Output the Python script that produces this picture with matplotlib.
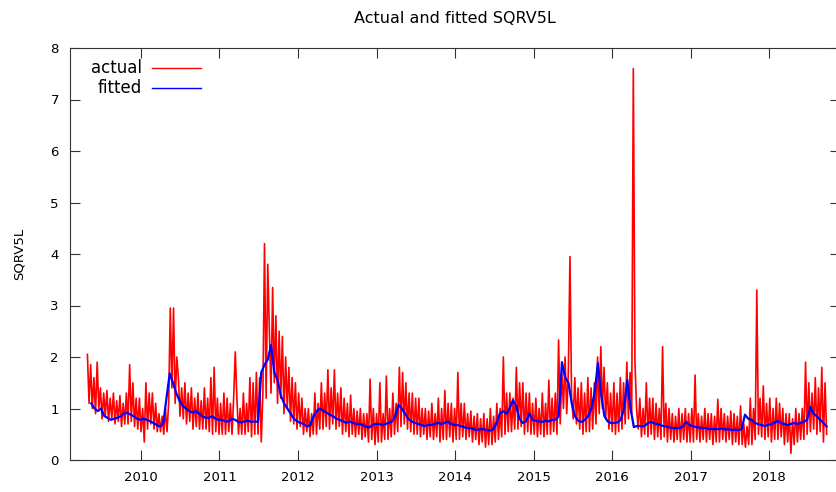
import numpy as np
import pandas as pd
import matplotlib
matplotlib.use("Agg")
import matplotlib.pyplot as plt
import matplotlib.dates as mdates

# actual SQRV5L, 4 readings per month, Apr 2009 .. Sep 2018
actual = [
    # 2009 Apr-Dec
    2.05, 1.1, 1.85, 1.0,  1.6, 0.9, 1.9, 1.0,  1.4, 0.8, 1.3, 0.85,
    1.35, 0.75, 1.2, 0.8,  1.3, 0.7, 1.15, 0.75,  1.25, 0.65, 1.1, 0.7,
    1.3, 0.7, 1.85, 0.75,  1.5, 0.65, 1.2, 0.6,  1.2, 0.55, 1.0, 0.35,
    # 2010
    1.5, 0.6, 1.3, 0.7,  1.3, 0.6, 1.1, 0.55,  0.9, 0.55, 0.85, 0.5,
    1.0, 0.55, 1.1, 2.95,  1.4, 2.95, 1.1, 2.0,  1.6, 0.85, 1.4, 0.8,
    1.5, 0.7, 1.3, 0.75,  1.4, 0.6, 1.2, 0.65,  1.3, 0.6, 1.15, 0.6,
    1.4, 0.6, 1.2, 0.55,  1.6, 0.5, 1.8, 0.55,  1.2, 0.5, 1.1, 0.5,
    # 2011
    1.3, 0.5, 1.2, 0.55,  1.1, 0.5, 1.2, 2.1,  1.2, 0.5, 1.0, 0.5,
    1.3, 0.5, 1.1, 0.55,  1.6, 0.45, 1.5, 0.5,  1.7, 0.5, 1.6, 0.35,
    1.3, 4.2, 1.2, 3.8,  2.5, 1.3, 3.35, 1.5,  2.8, 1.1, 2.5, 1.2,
    2.4, 0.9, 2.0, 1.0,  1.8, 0.75, 1.6, 0.7,  1.5, 0.6, 1.3, 0.65,
    # 2012
    1.2, 0.5, 1.0, 0.55,  1.0, 0.45, 0.9, 0.5,  1.3, 0.5, 1.1, 0.6,
    1.5, 0.6, 1.3, 0.65,  1.75, 0.6, 1.4, 0.7,  1.75, 0.6, 1.3, 0.65,
    1.4, 0.5, 1.2, 0.55,  1.1, 0.45, 1.26, 0.5,  1.0, 0.45, 0.95, 0.5,
    1.0, 0.4, 0.9, 0.45,  0.9, 0.35, 1.57, 0.4,  1.0, 0.3, 0.9, 0.35,
    # 2013
    1.5, 0.35, 0.9, 0.4,  1.63, 0.4, 1.0, 0.45,  1.3, 0.5, 1.1, 0.55,
    1.8, 0.65, 1.7, 0.7,  1.5, 0.6, 1.3, 0.55,  1.3, 0.5, 1.2, 0.5,
    1.2, 0.45, 1.0, 0.5,  1.0, 0.4, 0.95, 0.45,  1.1, 0.4, 0.9, 0.45,
    1.2, 0.35, 1.0, 0.4,  1.35, 0.4, 1.1, 0.45,  1.1, 0.35, 1.0, 0.4,
    # 2014
    1.7, 0.4, 1.1, 0.45,  1.1, 0.4, 0.9, 0.45,  0.95, 0.35, 0.85, 0.4,
    0.9, 0.3, 0.8, 0.35,  0.9, 0.25, 0.8, 0.3,  1.0, 0.3, 0.85, 0.35,
    1.1, 0.4, 1.0, 0.45,  2.0, 0.5, 1.3, 0.55,  1.3, 0.55, 1.2, 0.6,
    1.8, 0.6, 1.5, 0.65,  1.5, 0.5, 1.3, 0.55,  1.3, 0.5, 1.1, 0.5,
    # 2015
    1.2, 0.45, 1.0, 0.5,  1.3, 0.45, 1.1, 0.5,  1.55, 0.5, 1.2, 0.55,
    1.3, 0.5, 2.33, 0.7,  1.7, 1.0, 2.0, 0.9,  1.7, 3.95, 1.2, 0.8,
    1.6, 0.7, 1.4, 0.6,  1.5, 0.5, 1.3, 0.55,  1.6, 0.55, 1.4, 0.6,
    1.5, 0.7, 2.0, 0.9,  2.2, 1.0, 1.8, 0.8,  1.5, 0.6, 1.3, 0.55,
    # 2016
    1.5, 0.5, 1.3, 0.55,  1.6, 0.6, 1.5, 0.7,  1.9, 0.8, 1.7, 0.9,
    7.6, 1.9, 1.0, 0.6,  1.2, 0.45, 1.0, 0.5,  1.5, 0.45, 1.2, 0.5,
    1.2, 0.4, 1.1, 0.45,  1.0, 0.4, 2.2, 0.45,  1.1, 0.35, 1.0, 0.4,
    0.9, 0.35, 0.85, 0.4,  1.0, 0.35, 0.9, 0.4,  1.0, 0.35, 0.9, 0.35,
    # 2017
    1.0, 0.35, 1.65, 0.4,  0.9, 0.35, 0.85, 0.4,  1.0, 0.35, 0.9, 0.4,
    0.9, 0.3, 0.85, 0.35,  1.18, 0.35, 1.0, 0.4,  0.9, 0.35, 0.85, 0.4,
    0.95, 0.3, 0.9, 0.35,  0.85, 0.3, 1.05, 0.3,  0.7, 0.25, 0.65, 0.3,
    1.2, 0.3, 1.0, 0.4,  3.3, 0.5, 1.2, 0.45,  1.44, 0.4, 1.1, 0.45,
    # 2018 Jan-Sep
    1.2, 0.35, 1.0, 0.4,  1.2, 0.4, 1.1, 0.45,  1.0, 0.3, 0.9, 0.35,
    0.9, 0.13, 0.8, 0.3,  1.0, 0.35, 0.9, 0.4,  1.0, 0.4, 1.9, 0.5,
    1.5, 0.55, 1.3, 0.6,  1.6, 0.5, 1.4, 0.55,  1.8, 0.35, 1.5, 0.5,
]

# fitted values, 2 per month, May 2009 .. Sep 2018
fitted = [
    # 2009 May-Dec
    1.1, 1.0,  0.95, 1.0,  0.85, 0.82,  0.78, 0.8,  0.82, 0.85,  0.9, 0.92,
    0.88, 0.85,  0.8, 0.78,
    # 2010
    0.8, 0.78,  0.75, 0.72,  0.68, 0.65,  0.7, 1.2,  1.68, 1.5,  1.3, 1.15,
    1.05, 1.0,  0.95, 0.92,  0.95, 0.9,  0.85, 0.82,  0.82, 0.85,  0.8, 0.78,
    # 2011
    0.78, 0.75,  0.75, 0.8,  0.78, 0.74,  0.73, 0.75,  0.76, 0.74,  0.75, 0.74,
    1.7, 1.85,  1.95, 2.23,  1.7, 1.55,  1.25, 1.1,  1.0, 0.9,  0.8, 0.75,
    # 2012
    0.72, 0.7,  0.65, 0.68,  0.85, 0.95,  1.0, 0.95,  0.92, 0.88,  0.85, 0.8,
    0.78, 0.75,  0.72, 0.75,  0.72, 0.7,  0.7, 0.68,  0.65, 0.63,  0.68, 0.7,
    # 2013
    0.7, 0.68,  0.7, 0.72,  0.75, 0.85,  1.07, 1.0,  0.9, 0.8,  0.75, 0.72,
    0.7, 0.68,  0.66, 0.68,  0.68, 0.7,  0.72, 0.7,  0.72, 0.75,  0.7, 0.68,
    # 2014
    0.68, 0.66,  0.64, 0.62,  0.62, 0.6,  0.58, 0.6,  0.6, 0.58,  0.57, 0.6,
    0.72, 0.9,  0.95, 0.9,  1.0, 1.16,  1.05, 0.8,  0.72, 0.75,  0.9, 0.78,
    # 2015
    0.76, 0.75,  0.74, 0.76,  0.75, 0.78,  0.78, 0.85,  1.9, 1.6,  1.5, 1.1,
    0.85, 0.76,  0.74, 0.78,  0.85, 1.0,  1.3, 1.88,  1.27, 0.85,  0.75, 0.72,
    # 2016
    0.72, 0.73,  0.78, 1.0,  1.55, 1.0,  0.64, 0.66,  0.66, 0.65,  0.7, 0.74,
    0.72, 0.7,  0.68, 0.66,  0.65, 0.63,  0.62, 0.62,  0.62, 0.65,  0.74, 0.68,
    # 2017
    0.66, 0.64,  0.63, 0.62,  0.62, 0.6,  0.6, 0.6,  0.6, 0.61,  0.59, 0.6,
    0.58, 0.59,  0.58, 0.6,  0.88, 0.8,  0.78, 0.72,  0.7, 0.68,  0.66, 0.68,
    # 2018 Jan-Sep
    0.7, 0.72,  0.76, 0.72,  0.7, 0.68,  0.7, 0.72,  0.7, 0.72,  0.74, 0.78,
    1.03, 0.9,  0.85, 0.78,  0.72, 0.65,
]

act_dates = pd.date_range("2009-04-27", "2018-09-25", periods=len(actual))
fit_dates = pd.date_range("2009-05-15", "2018-09-25", periods=len(fitted))

fig = plt.figure(figsize=(8.36, 4.92), dpi=100)
ax = fig.add_axes([70 / 836, 32 / 492, 770 / 836, 412 / 492])

ax.plot(act_dates, actual, color="#ff0000", lw=1.2)
ax.plot(fit_dates, fitted, color="#0000ff", lw=1.6)

ax.set_xlim(pd.Timestamp("2009-02-05"), pd.Timestamp("2018-11-26"))
ax.set_ylim(0, 8)
ax.set_yticks(range(0, 9))
ax.xaxis.set_major_locator(mdates.YearLocator())
ax.xaxis.set_major_formatter(mdates.DateFormatter("%Y"))
ax.tick_params(direction="in", top=True, right=True, length=7, labelsize=9.5,
               pad=8, color="#333333")
for s in ax.spines.values():
    s.set_color("#333333")

ax.set_ylabel("SQRV5L", fontsize=9.5, labelpad=18)
ax.set_title("Actual and fitted SQRV5L", fontsize=11.5, pad=18)

# gnuplot-like key: text right aligned, sample line after it
for label, col, yy in [("actual", "#ff0000", 0.951), ("fitted", "#0000ff", 0.903)]:
    ax.text(0.0935, yy, label, transform=ax.transAxes, ha="right", va="center",
            fontsize=12)
    ax.plot([0.106, 0.170], [yy, yy], transform=ax.transAxes, color=col, lw=1.0)

fig.savefig("out.png", dpi=100)
